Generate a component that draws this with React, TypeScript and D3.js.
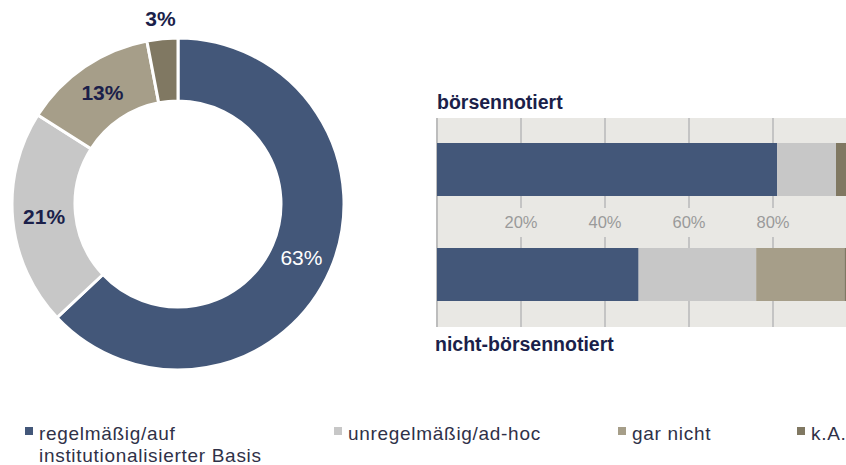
import React from "react";
import * as d3 from "d3";

const categories = ["regelmäßig/auf institutionalisierter Basis", "unregelmäßig/ad-hoc", "gar nicht", "k.A."];
const legendLines = [["regelmäßig/auf", "institutionalisierter Basis"], ["unregelmäßig/ad-hoc"], ["gar nicht"], ["k.A."]];
const colors = ["#435779", "#c7c7c7", "#a69e89", "#807862"];
const donutValues = [63, 21, 13, 3];
const barGroups = ["börsennotiert", "nicht-börsennotiert"];
const barListed = [81, 14, 0, 5];
const barUnlisted = [48, 28, 21, 3];
const tickValues = [20, 40, 60, 80];

const W = 846, H = 465;
const NAVY = "#1b1f4a";

export default function App() {
  // Donut
  const cx = 178, cy = 204, rOuter = 166, rInner = 103;
  const pie = d3.pie<number>().sort(null).value((d) => d)(donutValues);
  const arc = d3.arc<d3.PieArcDatum<number>>().innerRadius(rInner).outerRadius(rOuter);
  const outerLabelArc = d3.arc<d3.PieArcDatum<number>>().innerRadius(186).outerRadius(186);

  // Bars
  const x = d3.scaleLinear().domain([0, 100]).range([437, 857]);
  const barRows = [barListed, barUnlisted];
  const barTop = [143, 248];
  const barH = 53;
  const bgTop = 118, bgBottom = 327;
  const labelY = 222;

  return (
    <svg width={W} height={H} style={{ position: "absolute", left: 0, top: 0 }} fontFamily="Liberation Sans, Arial, sans-serif">
      {/* Donut */}
      <g transform={`translate(${cx},${cy})`}>
        {pie.map((p, i) => (
          <path key={i} d={arc(p) as string} fill={colors[i]} stroke="#fff" strokeWidth={3} />
        ))}
        {pie.map((p, i) => {
          const outside = p.data < 5;
          const [lx, ly] = outside ? outerLabelArc.centroid(p) : arc.centroid(p);
          return (
            <text key={i} x={lx} y={ly} dy="0.36em" textAnchor="middle" fontSize={21}
              fontWeight={i === 0 ? 400 : 700} fill={i === 0 ? "#fff" : NAVY}>
              {p.data}%
            </text>
          );
        })}
      </g>

      {/* Bar chart */}
      <rect x={437} y={bgTop} width={W - 437} height={bgBottom - bgTop} fill="#e9e8e4" />
      {tickValues.map((t) => (
        <line key={t} x1={x(t)} x2={x(t)} y1={bgTop} y2={bgBottom} stroke="#c4c4c4" strokeWidth={2} />
      ))}
      <line x1={437} x2={437} y1={bgTop} y2={bgBottom} stroke="#bdbdbd" strokeWidth={2} />
      {tickValues.map((t) => (
        <g key={"l" + t}>
          <rect x={x(t) - 20} y={208} width={40} height={29} fill="#e9e8e4" />
          <text x={x(t)} y={labelY} dy="0.36em" textAnchor="middle" fontSize={16.5} fill="#9a9a9a">{t}%</text>
        </g>
      ))}
      {barRows.map((row, r) => {
        let acc = 0;
        return (
          <g key={r}>
            {row.map((v, i) => {
              const x0 = x(acc);
              acc += v;
              const x1 = x(acc);
              return <rect key={i} x={x0} y={barTop[r]} width={Math.max(0, x1 - x0)} height={barH} fill={colors[i]} />;
            })}
          </g>
        );
      })}
      <text x={437} y={109} fontSize={19.5} fontWeight={700} fill={NAVY}>{barGroups[0]}</text>
      <text x={435} y={351} fontSize={19.5} fontWeight={700} fill={NAVY}>{barGroups[1]}</text>

      {/* Legend */}
      {categories.map((c, i) => {
        const lx = [25, 334, 618, 797][i];
        return (
          <g key={c}>
            <rect x={lx} y={427} width={8} height={8} fill={colors[i]} />
            {legendLines[i].map((ln, k) => (
              <text key={k} x={lx + 14} y={440 + k * 22} fontSize={19} fill="#2f3148" letterSpacing={0.7}>
                {ln}
              </text>
            ))}
          </g>
        );
      })}
    </svg>
  );
}
